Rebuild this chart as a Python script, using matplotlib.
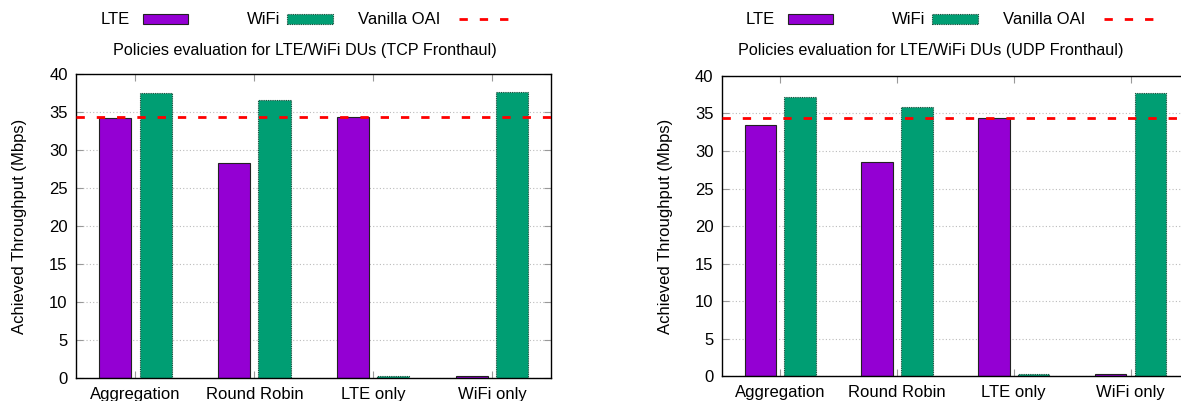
import numpy as np
import matplotlib
matplotlib.use("Agg")
from matplotlib import pyplot as plt
from matplotlib.patches import Rectangle
from matplotlib.lines import Line2D

plt.rcParams['font.family'] = ['Liberation Sans', 'DejaVu Sans']

policies = ['Aggregation', 'Round Robin', 'LTE only', 'WiFi only']
# throughput in Mbps
tcp_lte = [34.2, 28.3, 34.4, 0.3]
tcp_wifi = [37.5, 36.6, 0.3, 37.7]
udp_lte = [33.4, 28.5, 34.4, 0.3]
udp_wifi = [37.2, 35.8, 0.3, 37.7]
vanilla_oai = 34.4

lte_color = '#9400D3'
wifi_color = '#009E73'

fig = plt.figure(figsize=(11.81, 4.01), dpi=100)


def panel(rect, lte, wifi, title, title_x, legend_x):
    ax = fig.add_axes(rect)
    x = np.arange(len(policies))
    w = 0.27
    ax.bar(x - 0.17, lte, w, color=lte_color, edgecolor='#222222', linewidth=0.8, zorder=2)
    ax.bar(x + 0.17, wifi, w, color=wifi_color, edgecolor='#1a4a3a', linewidth=0.8,
           linestyle=(0, (1, 1)), zorder=2)
    ax.axhline(vanilla_oai, color='#ff0000', linewidth=2.0, dashes=(3, 4.3), zorder=3)
    ax.set_xlim(-0.5, 3.5)
    ax.set_ylim(0, 40)
    ax.set_yticks(range(0, 41, 5))
    ax.set_xticks(x)
    ax.set_xticklabels(policies, fontsize=12)
    ax.tick_params(axis='both', direction='in', length=5, color='#999999',
                   top=True, right=True, labelsize=12, pad=6)
    ax.yaxis.grid(True, linestyle=(0, (1, 2)), color='#bbbbbb', linewidth=0.8, zorder=0)
    for s in ax.spines.values():
        s.set_linewidth(1.0)
    ax.set_ylabel('Achieved Throughput (Mbps)', fontsize=12, labelpad=16)

    # title and legend row above the plot
    fig.text(title_x, 0.875, title, ha='center', va='center', fontsize=11.6)
    y = 0.952
    fig.text(legend_x, y, 'LTE', ha='left', va='center', fontsize=12)
    fig.patches.append(Rectangle((legend_x + 0.036, y - 0.012), 0.038, 0.024,
                                 transform=fig.transFigure, facecolor=lte_color,
                                 edgecolor='#222222', linewidth=0.8))
    fig.text(legend_x + 0.124, y, 'WiFi', ha='left', va='center', fontsize=12)
    fig.patches.append(Rectangle((legend_x + 0.158, y - 0.012), 0.039, 0.024,
                                 transform=fig.transFigure, facecolor=wifi_color,
                                 edgecolor='#1a4a3a', linewidth=0.8, linestyle=(0, (1, 1))))
    fig.text(legend_x + 0.218, y, 'Vanilla OAI', ha='left', va='center', fontsize=12)
    fig.lines.append(Line2D([legend_x + 0.304, legend_x + 0.349], [y, y],
                            transform=fig.transFigure, color='#ff0000',
                            linewidth=2.0, dashes=(3, 4.3)))
    return ax


panel([0.0644, 0.0566, 0.4025, 0.758], tcp_lte, tcp_wifi,
      'Policies evaluation for LTE/WiFi DUs (TCP Fronthaul)', 0.258, 0.085)
panel([0.6113, 0.0611, 0.3954, 0.750], udp_lte, udp_wifi,
      'Policies evaluation for LTE/WiFi DUs (UDP Fronthaul)', 0.788, 0.631)

fig.savefig('out.png', dpi=100)
